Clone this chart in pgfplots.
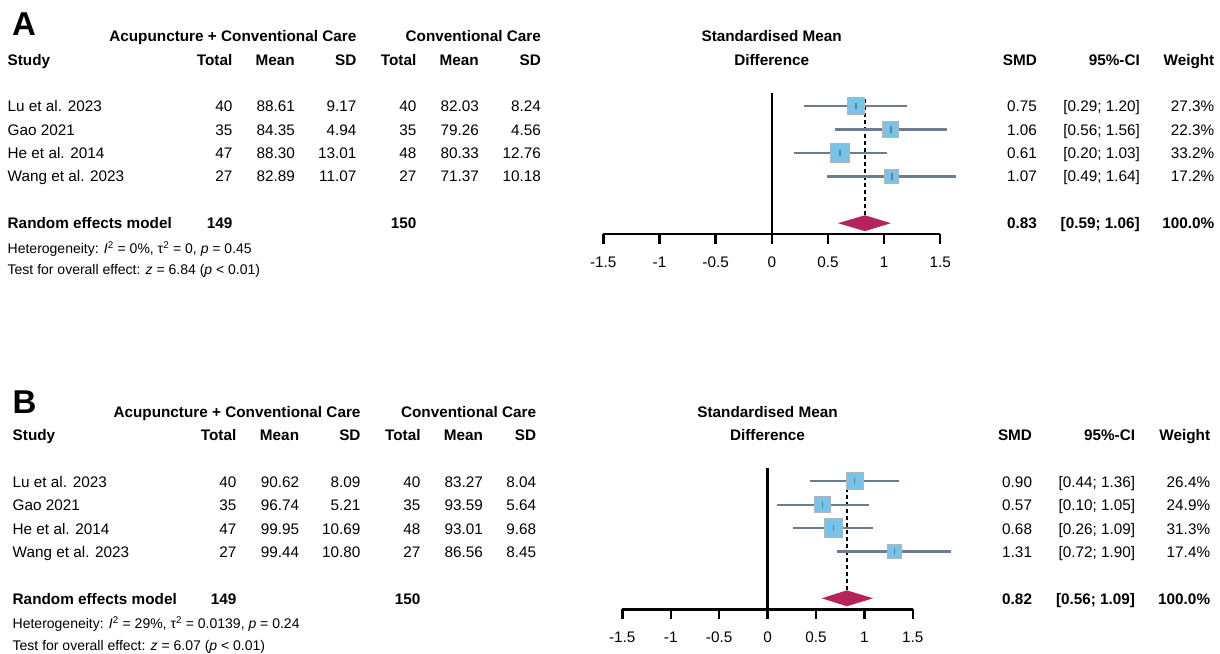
\documentclass[border=0pt]{standalone}
\usepackage{pgfplots}
\pgfplotsset{compat=1.18}
\usepackage{pgfplotstable}
\usepackage{fontspec}
\setmainfont{Liberation Sans}
\definecolor{skyb}{RGB}{118,196,234}
\definecolor{sqb}{RGB}{180,180,180}
\definecolor{slate}{RGB}{108,125,145}
\definecolor{dia}{RGB}{180,36,90}
\newcommand{\body}{\fontsize{15.3}{18}\selectfont}
\newcommand{\smalltxt}{\fontsize{14}{16}\selectfont}
\newcommand{\R}[3]{\node[anchor=base east] at (#1pt,-#2pt) {#3};}
\newcommand{\Lf}[3]{\node[anchor=base west] at (#1pt,-#2pt) {#3};}
\newcommand{\C}[3]{\node[anchor=base] at (#1pt,-#2pt) {#3};}

% Panel A data: row y, SMD, lower, upper, half side of square (pt)
\pgfplotstableread{
y smd lo hi hs
5 0.75 0.29 1.20 8.6
4 1.06 0.56 1.56 7.8
3 0.61 0.20 1.03 9.5
2 1.07 0.49 1.64 6.9
}\dataA
\pgfplotstableread{
x y
0.29 5
1.20 5
nan nan
0.56 4
1.56 4
nan nan
0.20 3
1.03 3
nan nan
0.49 2
1.64 2
}\ciA
% Panel B data
\pgfplotstableread{
y smd lo hi hs
5 0.90 0.44 1.36 8.5
4 0.57 0.10 1.05 8.2
3 0.68 0.26 1.09 9.2
2 1.31 0.72 1.90 6.9
}\dataB
\pgfplotstableread{
x y
0.44 5
1.36 5
nan nan
0.10 4
1.05 4
nan nan
0.26 3
1.09 3
nan nan
0.72 2
1.90 2
}\ciB

\pgfplotsset{forest/.style={
  scale only axis, height=140.9pt,
  xmin=-1.5, xmax=1.5, ymin=-0.47, ymax=5.55,
  axis x line=bottom, axis y line=none,
  axis line style={-, line width=2.4pt, black},
  xtick={-1.5,-1,-0.5,0,0.5,1,1.5},
  xticklabels={-1.5,-1,-0.5,0,0.5,1,1.5},
  tick align=outside, major tick length=9.3pt,
  x tick style={line width=2.4pt, black},
  xticklabel style={font=\body, anchor=base, yshift=-24pt, inner sep=0pt},
  clip=false, anchor=south west,
}}

\begin{document}
\begin{tikzpicture}[x=1pt,y=1pt, every node/.style={inner sep=0pt, font=\body}]
\path[use as bounding box] (0pt,0pt) rectangle (1220pt,-653pt);

% ---------------- Panel A ----------------
\begin{axis}[forest, at={(603.3pt,-234.2pt)}, width=336.9pt]
\addplot[black, line width=2.2pt] coordinates {(0,-0.47) (0,5.55)};
\addplot[black, line width=2.3pt, dash pattern=on 4pt off 3pt] coordinates {(0.83,0.34) (0.83,5.37)};
\addplot[scatter, only marks, mark=square*,
  scatter/use mapped color={draw=sqb, fill=skyb},
  mark options={line width=1.2pt},
  visualization depends on={\thisrow{hs} \as \hs},
  scatter/@pre marker code/.append style={/tikz/mark size=\hs}]
  table[x=smd, y=y] {\dataA};
\addplot[slate, line width=2.3pt, unbounded coords=jump] table {\ciA};
\addplot[only marks, mark=|, mark size=3.2pt, mark options={slate, line width=1.6pt}] table[x=smd, y=y] {\dataA};
\addplot[fill=dia, draw=none] coordinates {(0.59,0) (0.83,0.34) (1.06,0) (0.83,-0.34)} -- cycle;
\end{axis}

\node[anchor=base west, font=\fontsize{33}{36}\selectfont\bfseries] at (12pt,-35pt) {A};
\R{356.5}{41}{\textbf{Acupuncture + Conventional Care}}
\R{541}{41}{\textbf{Conventional Care}}
\C{771.7}{41}{\textbf{Standardised Mean}}
\Lf{7.5}{65}{\textbf{Study}}
\R{232.5}{65}{\textbf{Total}}
\R{295}{65}{\textbf{Mean}}
\R{356.5}{65}{\textbf{SD}}
\R{416.5}{65}{\textbf{Total}}
\R{479}{65}{\textbf{Mean}}
\R{541}{65}{\textbf{SD}}
\C{771.7}{65}{\textbf{Difference}}
\R{1037}{65}{\textbf{SMD}}
\R{1140}{65}{\textbf{95\%-CI}}
\R{1214.5}{65}{\textbf{Weight}}

\Lf{7.5}{111.6}{Lu et al. 2023}
\R{232.5}{111.6}{40}\R{295}{111.6}{88.61}\R{356.5}{111.6}{9.17}
\R{416.5}{111.6}{40}\R{479}{111.6}{82.03}\R{541}{111.6}{8.24}
\R{1037}{111.6}{0.75}\R{1140}{111.6}{[0.29; 1.20]}\R{1214.5}{111.6}{27.3\%}

\Lf{7.5}{135}{Gao 2021}
\R{232.5}{135}{35}\R{295}{135}{84.35}\R{356.5}{135}{4.94}
\R{416.5}{135}{35}\R{479}{135}{79.26}\R{541}{135}{4.56}
\R{1037}{135}{1.06}\R{1140}{135}{[0.56; 1.56]}\R{1214.5}{135}{22.3\%}

\Lf{7.5}{158.4}{He et al. 2014}
\R{232.5}{158.4}{47}\R{295}{158.4}{88.30}\R{356.5}{158.4}{13.01}
\R{416.5}{158.4}{48}\R{479}{158.4}{80.33}\R{541}{158.4}{12.76}
\R{1037}{158.4}{0.61}\R{1140}{158.4}{[0.20; 1.03]}\R{1214.5}{158.4}{33.2\%}

\Lf{7.5}{181.8}{Wang et al. 2023}
\R{232.5}{181.8}{27}\R{295}{181.8}{82.89}\R{356.5}{181.8}{11.07}
\R{416.5}{181.8}{27}\R{479}{181.8}{71.37}\R{541}{181.8}{10.18}
\R{1037}{181.8}{1.07}\R{1140}{181.8}{[0.49; 1.64]}\R{1214.5}{181.8}{17.2\%}

\Lf{7.5}{228.6}{\textbf{Random effects model}}
\R{232.5}{228.6}{\textbf{149}}
\R{416.5}{228.6}{\textbf{150}}
\R{1037}{228.6}{\textbf{0.83}}\R{1140}{228.6}{\textbf{[0.59; 1.06]}}\R{1214.5}{228.6}{\textbf{100.0\%}}

\node[anchor=base west, font=\smalltxt] at (7.5pt,-253.5pt) {Heterogeneity: \textit{I}\textsuperscript{2} = 0\%, τ\textsuperscript{2} = 0, \textit{p} = 0.45};
\node[anchor=base west, font=\smalltxt] at (7.5pt,-274.8pt) {Test for overall effect: \textit{z} = 6.84 (\textit{p} < 0.01)};

% ---------------- Panel B ----------------
\begin{axis}[forest, at={(622.3pt,-609.3pt)}, width=290.4pt]
\addplot[black, line width=2.2pt] coordinates {(0,-0.47) (0,5.55)};
\addplot[black, line width=2.3pt, dash pattern=on 4pt off 3pt] coordinates {(0.82,0.34) (0.82,5.37)};
\addplot[scatter, only marks, mark=square*,
  scatter/use mapped color={draw=sqb, fill=skyb},
  mark options={line width=1.2pt},
  visualization depends on={\thisrow{hs} \as \hs},
  scatter/@pre marker code/.append style={/tikz/mark size=\hs}]
  table[x=smd, y=y] {\dataB};
\addplot[slate, line width=2.3pt, unbounded coords=jump] table {\ciB};
\addplot[only marks, mark=|, mark size=3.2pt, mark options={slate, line width=1.6pt}] table[x=smd, y=y] {\dataB};
\addplot[fill=dia, draw=none] coordinates {(0.56,0) (0.82,0.34) (1.09,0) (0.82,-0.34)} -- cycle;
\end{axis}

\node[anchor=base west, font=\fontsize{33}{36}\selectfont\bfseries] at (12.5pt,-413pt) {B};
\R{360.7}{417}{\textbf{Acupuncture + Conventional Care}}
\R{536.4}{417}{\textbf{Conventional Care}}
\C{767.5}{417}{\textbf{Standardised Mean}}
\Lf{12.5}{440.5}{\textbf{Study}}
\R{236.5}{440.5}{\textbf{Total}}
\R{299.3}{440.5}{\textbf{Mean}}
\R{360.7}{440.5}{\textbf{SD}}
\R{420.7}{440.5}{\textbf{Total}}
\R{483.2}{440.5}{\textbf{Mean}}
\R{536.4}{440.5}{\textbf{SD}}
\C{767.5}{440.5}{\textbf{Difference}}
\R{1032.2}{440.5}{\textbf{SMD}}
\R{1135.3}{440.5}{\textbf{95\%-CI}}
\R{1210.3}{440.5}{\textbf{Weight}}

\Lf{12.5}{487.2}{Lu et al. 2023}
\R{236.5}{487.2}{40}\R{299.3}{487.2}{90.62}\R{360.7}{487.2}{8.09}
\R{420.7}{487.2}{40}\R{483.2}{487.2}{83.27}\R{536.4}{487.2}{8.04}
\R{1032.2}{487.2}{0.90}\R{1135.3}{487.2}{[0.44; 1.36]}\R{1210.3}{487.2}{26.4\%}

\Lf{12.5}{510.6}{Gao 2021}
\R{236.5}{510.6}{35}\R{299.3}{510.6}{96.74}\R{360.7}{510.6}{5.21}
\R{420.7}{510.6}{35}\R{483.2}{510.6}{93.59}\R{536.4}{510.6}{5.64}
\R{1032.2}{510.6}{0.57}\R{1135.3}{510.6}{[0.10; 1.05]}\R{1210.3}{510.6}{24.9\%}

\Lf{12.5}{534}{He et al. 2014}
\R{236.5}{534}{47}\R{299.3}{534}{99.95}\R{360.7}{534}{10.69}
\R{420.7}{534}{48}\R{483.2}{534}{93.01}\R{536.4}{534}{9.68}
\R{1032.2}{534}{0.68}\R{1135.3}{534}{[0.26; 1.09]}\R{1210.3}{534}{31.3\%}

\Lf{12.5}{557.4}{Wang et al. 2023}
\R{236.5}{557.4}{27}\R{299.3}{557.4}{99.44}\R{360.7}{557.4}{10.80}
\R{420.7}{557.4}{27}\R{483.2}{557.4}{86.56}\R{536.4}{557.4}{8.45}
\R{1032.2}{557.4}{1.31}\R{1135.3}{557.4}{[0.72; 1.90]}\R{1210.3}{557.4}{17.4\%}

\Lf{12.5}{604.2}{\textbf{Random effects model}}
\R{236.5}{604.2}{\textbf{149}}
\R{420.7}{604.2}{\textbf{150}}
\R{1032.2}{604.2}{\textbf{0.82}}\R{1135.3}{604.2}{\textbf{[0.56; 1.09]}}\R{1210.3}{604.2}{\textbf{100.0\%}}

\node[anchor=base west, font=\smalltxt] at (12.5pt,-628.5pt) {Heterogeneity: \textit{I}\textsuperscript{2} = 29\%, τ\textsuperscript{2} = 0.0139, \textit{p} = 0.24};
\node[anchor=base west, font=\smalltxt] at (12.5pt,-650.3pt) {Test for overall effect: \textit{z} = 6.07 (\textit{p} < 0.01)};
\end{tikzpicture}
\end{document}
